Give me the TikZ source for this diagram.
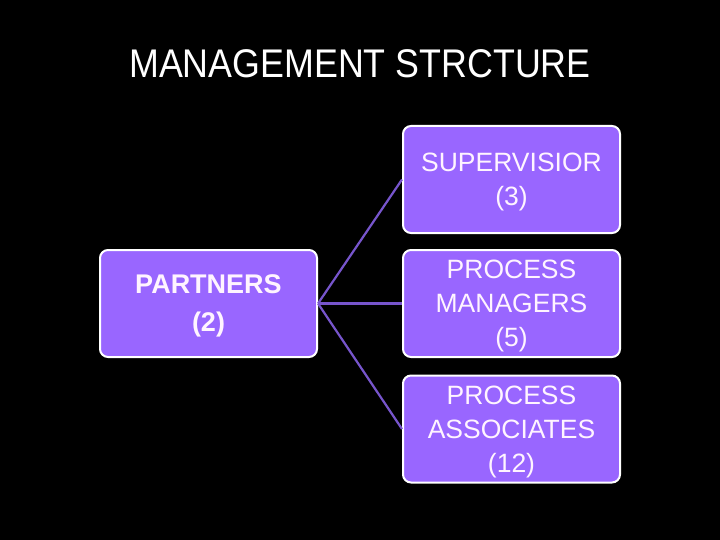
\documentclass[tikz,border=0pt]{standalone}
\usepackage{fontspec}
\setmainfont{Liberation Sans}
\definecolor{boxfill}{HTML}{9966FF}
\definecolor{linkc}{HTML}{7755CC}
\definecolor{boxtext}{HTML}{FFF4FF}
\begin{document}
\begin{tikzpicture}[x=1pt,y=-1pt,
  orgbox/.style={draw=white,line width=2pt,fill=boxfill,rounded corners=8pt,
    minimum width=217pt,minimum height=107pt,text=boxtext,align=center,
    font=\fontsize{26.5}{34}\selectfont,inner sep=0pt,text depth=0pt},
  link/.style={draw=linkc,line width=2.2pt}]
\fill[black] (0,0) rectangle (720,540);
\useasboundingbox (0,0) rectangle (720,540);
\node[text=white,font=\fontsize{40}{48}\selectfont] (title) at (360,64) {\scalebox{0.895}[1]{MANAGEMENT STRCTURE}};
\node[orgbox,font=\fontsize{27}{38}\selectfont\bfseries] (p) at (208.5,303.5) {PARTNERS\\(2)};
\node[orgbox] (s) at (511.5,179.5) {SUPERVISIOR\\(3)};
\node[orgbox] (m) at (511.5,303.5) {PROCESS\\MANAGERS\\(5)};
\node[orgbox] (a) at (511.5,429) {PROCESS\\ASSOCIATES\\(12)};
\draw[link] (p.east) -- (s.west);
\draw[link] (p.east) -- (m.west);
\draw[link] (p.east) -- (a.west);
\end{tikzpicture}
\end{document}
